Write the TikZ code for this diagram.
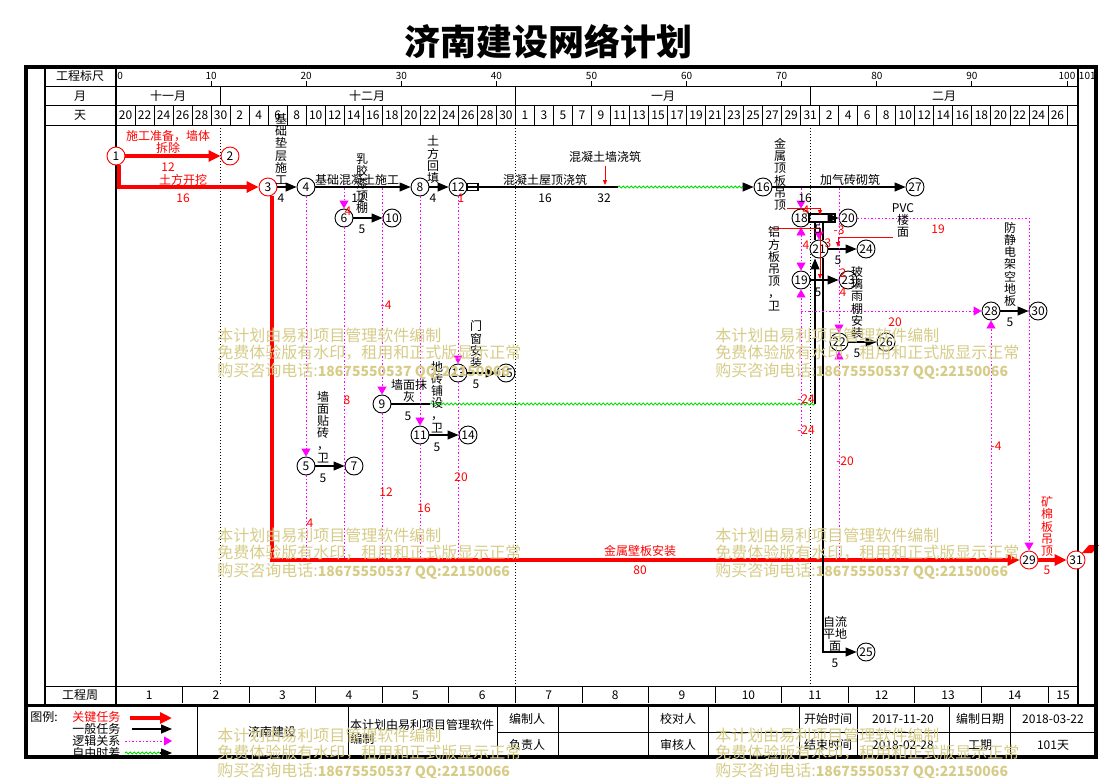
\documentclass[tikz,border=0pt]{standalone}
\usepackage{fontspec}
\newfontfamily\cjk{Noto Sans CJK SC}
\usetikzlibrary{arrows.meta,decorations.pathmorphing}
\definecolor{critred}{RGB}{255,0,0}
\definecolor{logicmag}{RGB}{255,0,255}
\definecolor{freegreen}{RGB}{0,225,0}
\definecolor{wmkhaki}{RGB}{214,204,136}
\def\lfont{\cjk\fontsize{12}{12.2}\selectfont}
\def\wmark(#1,#2){\node[wm] (wm#1#2a) at (#1,#2) {本计划由易利项目管理软件编制};
	\node[wm] (wm#1#2b) at (#1,#2+18) {免费体验版有水印，租用和正式版显示正常};
	\node[wm] (wm#1#2c) at (#1,#2+36) {购买咨询电话:{\bfseries\fontsize{14}{16}\selectfont 18675550537 QQ:22150066}};}
\tikzset{
	lbl/.style={font=\lfont, inner sep=0pt},
	scalelbl/.style={font=\cjk\fontsize{10}{12}\selectfont, inner sep=0pt},
	vlbl/.style={lbl, align=center, anchor=south},
	redlbl/.style={lbl, text=critred},
	ev/.style={circle, draw, fill=white, line width=0.9pt, minimum size=18pt, inner sep=0pt, font=\lfont},
	evcrit/.style={ev, draw=critred},
	taskline/.style={line width=1.1pt},
	task/.style={taskline, -{Triangle[length=11pt,width=9pt]}},
	crittask/.style={critred, line width=3.5pt, -{Triangle[length=12pt,width=11pt]}},
	logic/.style={logicmag, line width=0.9pt, dash pattern=on 1.5pt off 2pt},
	logicarr/.style={logic, -{Triangle[length=8pt,width=9pt]}},
	freefloat/.style={freegreen, line width=1pt, decorate, decoration={snake, amplitude=1pt, segment length=4pt}},
	leader/.style={critred, line width=0.9pt, -{Triangle[length=5pt,width=4pt]}},
	wm/.style={anchor=west, inner sep=0pt, text=wmkhaki, font=\cjk\fontsize{16}{18}\selectfont},
}
\begin{document}
\begin{tikzpicture}[x=1pt,y=-1pt,line width=0.9pt]
		%%%%% START %%%%%
		\useasboundingbox (0,0) rectangle (1101,777);
		\fill[white] (0,0) rectangle (1101,777);
		
		\node[font=\cjk\bfseries\fontsize{36}{38}\selectfont] (title) at (548,42) {济南建设网络计划};
		
		% header rows
		\draw (45,86) -- (1078,86);
		\draw (45,105) -- (1078,105);
		\draw (45,125) -- (1078,125);
		\draw (45,686) -- (1078,686);
		\draw[line width=1.5pt] (45,67) -- (45,705);
		\draw[line width=1.2pt] (116,67) -- (116,705);
		\draw[line width=1.2pt] (1078,67) -- (1078,705);
		\node[lbl] (hscale) at (80,76) {工程标尺};
		\node[lbl] (hmonth) at (80,96) {月};
		\node[lbl] (hday) at (80,115) {天};
		\node[lbl] (hweek) at (80,695) {工程周};
		
		\node[scalelbl,anchor=west] (tick0) at (117,76) {0};
		\foreach \d in {10,20,...,100} {
			\node[scalelbl] (tick\d) at ({116+9.51*\d},76) {\d};
			\draw ({116+9.51*\d},81) -- ++(0,5);
		}
		\node[scalelbl,anchor=west] (tick101) at (1078.5,76) {101};
		
		\node[lbl] (m11) at (168,96) {十一月};
		\node[lbl] (m12) at (367,96) {十二月};
		\node[lbl] (m1) at (663,96) {一月};
		\node[lbl] (m2) at (944,96) {二月};
		\foreach \d in {11,42,73} {
			\draw ({116+9.51*\d},86) -- ++(0,19);
			\draw[line width=0.8pt, dash pattern=on 1pt off 2pt] ({116+9.51*\d},125) -- ({116+9.51*\d},686);
		}
		
		\foreach \lab [count=\i from 0] in {20,22,24,26,28,30,2,4,6,8,10,12,14,16,18,20,22,24,26,28,30,1,3,5,7,9,11,13,15,17,19,21,23,25,27,29,31,2,4,6,8,10,12,14,16,18,20,22,24,26}
			\node[lbl] (day\i) at ({116+9.51*(2*\i+1)},115) {\lab};
		\foreach \i in {1,...,50}
			\draw ({116+19.02*\i},105) -- ++(0,20);
		
		\foreach \i in {1,...,14} {
			\node[lbl] (wk\i) at ({116+9.51*(7*\i-3.5)},695) {\i};
			\draw ({116+66.57*\i},686) -- ++(0,17);
		}
		\node[lbl] (wk15) at (1063,695) {15};
		
		% events
		\node[evcrit] (n1) at (116,156) {1};
		\node[evcrit] (n2) at (230,156) {2};
		\node[evcrit] (n3) at (268,187) {3};
		\node[ev] (n4) at (306,187) {4};
		\node[ev] (n8) at (420,187) {8};
		\node[ev] (n12) at (458,187) {12};
		\node[ev] (n16) at (763,187) {16};
		\node[ev] (n27) at (915,187) {27};
		\node[ev] (n6) at (344,218) {6};
		\node[ev] (n10) at (392,218) {10};
		\node[ev] (n18) at (801,218) {18};
		\node[ev] (n20) at (848,218) {20};
		\node[ev] (n21) at (819,249) {21};
		\node[ev] (n24) at (866,249) {24};
		\node[ev] (n19) at (801,280) {19};
		\node[ev] (n23) at (848,280) {23};
		\node[ev] (n28) at (991,311) {28};
		\node[ev] (n30) at (1038,311) {30};
		\node[ev] (n22) at (839,342) {22};
		\node[ev] (n26) at (886,342) {26};
		\node[ev] (n13) at (458,373) {13};
		\node[ev] (n15) at (506,373) {15};
		\node[ev] (n9) at (382,404) {9};
		\node[ev] (n11) at (420,435) {11};
		\node[ev] (n14) at (468,435) {14};
		\node[ev] (n5) at (306,466) {5};
		\node[ev] (n7) at (354,466) {7};
		\node[evcrit] (n29) at (1029,560) {29};
		\node[evcrit] (n31) at (1076,560) {31};
		\node[ev] (n25) at (866,652) {25};
		
		\coordinate (c12) at (618,187);
		\coordinate (c16) at (748,187);
		\coordinate (c9a) at (430,404);
		\coordinate (c9b) at (815,404);
		\coordinate (box18) at (835,218);
		
		% critical path
		\draw[crittask] (n1) -- (n2);
		\draw[crittask] ([xshift=3pt]n1.south) |- (n3);
		\draw[crittask] ([xshift=4pt]n3.south) |- (n29);
		\draw[crittask] (n29) -- (n31);
		\fill[critred] (1082,553) -- (1089,545) -- (1099,545) -- (1092,553) -- cycle;
		
		% tasks
		\draw[task] (n3) -- (n4);
		\draw[task] (n4) -- (n8);
		\draw[task] (n8) -- (n12);
		\draw[taskline] (n12) -- (c12);
		\draw[taskline] (467,183.5) rectangle (478,190.5);
		\draw[freefloat] (c12) -- (c16);
		\draw[task] (c16) -- (n16);
		\draw[task] (n16) -- (n27);
		\draw[task] (n6) -- (n10);
		\draw[taskline] (809,214) rectangle (box18 |- 0,222);
		\draw[task] (box18) -- (n20);
		\draw[taskline] (815,222) -- ([xshift=-4pt]n21.north);
		\draw[taskline] (823,222) -- ([xshift=4pt]n21.north);
		\draw[task] (n21) -- (n24);
		\draw[task] (n19) -- (n23);
		\draw[task] (n22) -- (n26);
		\draw[task] (n28) -- (n30);
		\draw[task] (n13) -- (n15);
		\draw[task] (n11) -- (n14);
		\draw[task] (n5) -- (n7);
		\draw[taskline] (n9) -- (c9a);
		\draw[freefloat] (c9a) -- (c9b);
		\draw[task] (c9b) -- ([xshift=-4pt]n21.south);
		\draw[task] ([xshift=4pt]n21.south) |- (n25);
		
		% logic relations
		\draw[logicarr] (n4) -- (n5);
		\draw[logic] (n5) -- (306,558);
		\draw[logicarr] (344,188) -- (n6);
		\draw[logic] (n6) -- (344,558);
		\draw[logicarr] (382,188) -- (n9);
		\draw[logic] (n9) -- (382,558);
		\draw[logicarr] (n8) -- (n11);
		\draw[logic] (n11) -- (420,558);
		\draw[logicarr] (n12) -- (n13);
		\draw[logic] (n13) -- (458,558);
		\draw[logicarr] (801,188) -- (n18);
		\draw[logic,{Triangle[length=8pt,width=9pt]}-{Triangle[length=8pt,width=9pt]}] (n18) -- (n19);
		\draw[logicarr] (801,436) -- (n19);
		\draw[logicarr] (801,311) -- (n28);
		\draw[logicarr] (819,223) -- (n21);
		\draw[logicarr] (839,188) -- (n22);
		\draw[logicarr] (839,558) -- (n22);
		\draw[logicarr] (991,558) -- (n28);
		\draw[logicarr] (n20) -| (n29);
		
		% label leaders
		\draw[leader] (605,166) -- (605,185);
		\draw[leader] (787,208) -| (820,215);
		\draw[leader] (772,228) -| (820,279);
		\draw[leader] (893,237) -| (838,247);
		
		% task names
		\node[redlbl,align=center] (t12a) at (168,142) {施工准备，墙体\\拆除};
		\node[redlbl] (t12b) at (168,167) {12};
		\node[redlbl] (t13a) at (183,180) {土方开挖};
		\node[redlbl] (t13b) at (183,198) {16};
		\node[redlbl] (t329a) at (640,551) {金属壁板安装};
		\node[redlbl] (t329b) at (640,570) {80};
		\node[vlbl,text=critred] (t2931a) at (1047,557) {矿\\棉\\板\\吊\\顶};
		\node[redlbl] (t2931b) at (1047,570) {5};
		
		\node[vlbl] (t34a) at (281,185) {基\\础\\垫\\层\\施\\工};
		\node[lbl] (t34b) at (281,198) {4};
		\node[lbl] (t48a) at (357,180) {基础混凝土施工};
		\node[lbl] (t48b) at (358,198) {12};
		\node[vlbl] (t610a) at (362,214) {乳\\胶\\漆\\顶\\棚};
		\node[lbl] (t610b) at (362,229) {5};
		\node[vlbl] (t812a) at (433,184) {土\\方\\回\\填};
		\node[lbl] (t812b) at (433,198) {4};
		\node[lbl] (t1216a) at (545,180) {混凝土屋顶浇筑};
		\node[lbl] (t1216b) at (545,198) {16};
		\node[lbl] (t1216c) at (605,157) {混凝土墙浇筑};
		\node[lbl] (t1216d) at (604,198) {32};
		\node[lbl] (t1627a) at (850,180) {加气砖砌筑};
		\node[lbl] (t1627b) at (805,198) {16};
		\node[vlbl] (t1820a) at (780,211) {金\\属\\顶\\板\\吊\\顶};
		\node[lbl] (t1820b) at (818,229) {5};
		\node[vlbl] (t1923a) at (774,311) {铝\\方\\板\\吊\\顶\\，\\卫};
		\node[lbl] (t1923b) at (818,292) {5};
		\node[vlbl] (t2124a) at (903,238) {PVC\\楼\\面};
		\node[lbl] (t2124b) at (838,260) {5};
		\node[vlbl] (t2226a) at (857,339) {玻\\璃\\雨\\棚\\安\\装};
		\node[lbl] (t2226b) at (857,353) {5};
		\node[vlbl] (t2830a) at (1010,307) {防\\静\\电\\架\\空\\地\\板};
		\node[lbl] (t2830b) at (1010,322) {5};
		\node[vlbl] (t1315a) at (476,369) {门\\窗\\安\\装};
		\node[lbl] (t1315b) at (476,384) {5};
		\node[lbl,align=center] (t9a) at (409,391) {墙面抹\\灰};
		\node[lbl] (t9b) at (408,416) {5};
		\node[vlbl] (t1114a) at (437,433) {地\\砖\\铺\\设\\，\\卫};
		\node[lbl] (t1114b) at (437,447) {5};
		\node[vlbl] (t57a) at (323,463) {墙\\面\\贴\\砖\\，\\卫};
		\node[lbl] (t57b) at (323,478) {5};
		\node[lbl,align=center] (t2125a) at (835,634) {自流\\平地\\面};
		\node[lbl] (t2125b) at (835,663) {5};
		
		% lags
		\node[redlbl] (g1) at (461,198) {1};
		\node[redlbl] (g2) at (348,211) {4};
		\node[redlbl] (g3) at (310,523) {4};
		\node[redlbl] (g4) at (347,400) {8};
		\node[redlbl] (g5) at (386,305) {-4};
		\node[redlbl] (g6) at (386,492) {12};
		\node[redlbl] (g7) at (424,508) {16};
		\node[redlbl] (g8) at (461,477) {20};
		\node[redlbl] (g9) at (806,210) {4};
		\node[redlbl] (g10) at (839,230) {-3};
		\node[redlbl] (g11) at (828,243) {3};
		\node[redlbl] (g12) at (806,245) {4};
		\node[redlbl] (g13) at (843,273) {2};
		\node[redlbl] (g14) at (843,292) {4};
		\node[redlbl] (g15) at (806,399) {-24};
		\node[redlbl] (g16) at (806,430) {-24};
		\node[redlbl] (g17) at (845,461) {-20};
		\node[redlbl] (g18) at (996,446) {-4};
		\node[redlbl] (g19) at (938,229) {19};
		\node[redlbl] (g20) at (895,322) {20};
		
		% legend and title block
		\begin{scope}
			\clip (28,707) rectangle (196,755);
			\node[lbl,anchor=west] (lg0) at (30,717) {图例:};
			\node[lbl,anchor=west,text=critred] (lg1) at (72,717) {关键任务};
			\node[lbl,anchor=west] (lg2) at (72,729) {一般任务};
			\node[lbl,anchor=west] (lg3) at (72,741) {逻辑关系};
			\node[lbl,anchor=west] (lg4) at (72,753) {自由时差};
			\draw[crittask] (130,718) -- (172,718);
			\draw[task] (132,729) -- (172,729);
			\draw[logic] (125,741) -- (162,741);
			\draw[logicarr] (160,741) -- (172,741);
			\draw[freefloat] (125,753) -- (160,753);
			\draw[task] (160,753) -- (172,753);
		\end{scope}
		\foreach \x in {197,348,497,558,648,708,799,857,949,1010}
			\draw (\x,705) -- (\x,757);
		\draw (497,732) -- (1096,732);
		\node[lbl] (b1) at (272,732) {济南建设};
		\node[lbl] (b2) at (422,725) {本计划由易利项目管理软件};
		\node[lbl,anchor=west] (b3) at (350,739) {编制};
		\node[lbl] (b4) at (527,719) {编制人};
		\node[lbl] (b5) at (527,745) {负责人};
		\node[lbl] (b6) at (678,719) {校对人};
		\node[lbl] (b7) at (678,745) {审核人};
		\node[lbl] (b8) at (828,719) {开始时间};
		\node[lbl] (b9) at (828,745) {结束时间};
		\node[lbl] (b10) at (903,719) {2017-11-20};
		\node[lbl] (b11) at (903,745) {2018-02-28};
		\node[lbl] (b12) at (980,719) {编制日期};
		\node[lbl] (b13) at (980,745) {工期};
		\node[lbl] (b14) at (1053,719) {2018-03-22};
		\node[lbl] (b15) at (1053,745) {101天};
		
		% frame
		\draw[line width=4pt] (26,67) rectangle (1096,757);
		\draw[line width=3pt] (26,705) -- (1096,705);
		
		% watermark
		\wmark(217,335)
		\wmark(715,335)
		\wmark(217,535)
		\wmark(715,535)
		\wmark(217,735)
		\wmark(715,735)
		
		%%%%% END %%%%%
\end{tikzpicture}
\end{document}
